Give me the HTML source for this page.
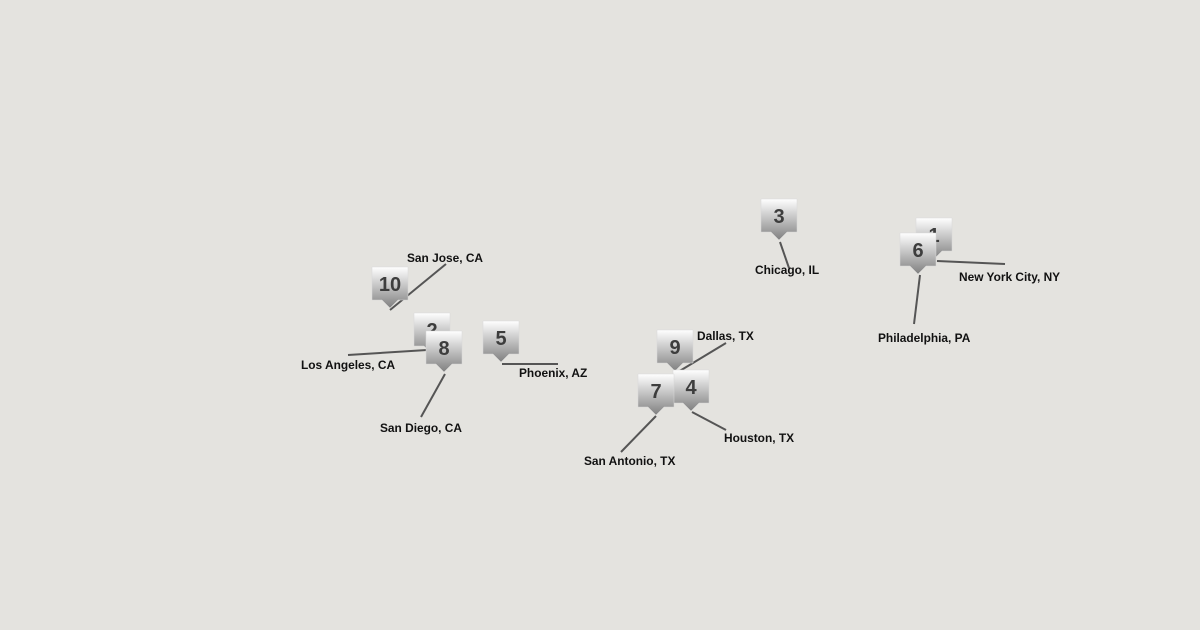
<!DOCTYPE html>
<html><head><meta charset="utf-8"><style>
html,body{margin:0;padding:0;background:#e4e3df;}
svg{display:block}
text{font-family:"Liberation Sans",sans-serif;}
.l{font-size:11.9px;font-weight:bold;fill:#111;}
.n{font-size:20px;font-weight:bold;fill:#3d3d3d;text-anchor:middle;}
</style></head><body>
<svg width="1200" height="630" viewBox="0 0 1200 630">
<defs>
<linearGradient id="g" x1="0" y1="0" x2="0" y2="1">
<stop offset="0" stop-color="#ffffff"/><stop offset="1" stop-color="#808080"/>
</linearGradient>
<g id="m"><path d="M-18,-41 h36 v33 h-10 l-8,8 l-8,-8 h-10 z" fill="url(#g)" stroke="#d8d8d8" stroke-width="0.5"/></g>
</defs>
<g stroke="#555" stroke-width="2" fill="none">
<line x1="390" y1="310" x2="446" y2="264"/>
<line x1="348" y1="355" x2="427" y2="350"/>
<line x1="421" y1="417" x2="445" y2="374"/>
<line x1="502" y1="364" x2="558" y2="364"/>
<line x1="780" y1="242" x2="789" y2="268"/>
<line x1="937" y1="261" x2="1005" y2="264"/>
<line x1="920" y1="275" x2="914" y2="324"/>
<line x1="678" y1="372" x2="726" y2="343"/>
<line x1="692" y1="412" x2="726" y2="430"/>
<line x1="656" y1="416" x2="621" y2="452"/>
</g>
<text class="l" x="407" y="262">San Jose, CA</text>
<text class="l" x="301" y="369">Los Angeles, CA</text>
<text class="l" x="380" y="432">San Diego, CA</text>
<text class="l" x="519" y="377">Phoenix, AZ</text>
<text class="l" x="755" y="274">Chicago, IL</text>
<text class="l" x="959" y="281">New York City, NY</text>
<text class="l" x="878" y="342">Philadelphia, PA</text>
<text class="l" x="697" y="340">Dallas, TX</text>
<text class="l" x="724" y="442">Houston, TX</text>
<text class="l" x="584" y="465">San Antonio, TX</text>

<use href="#m" x="390" y="308"/><text class="n" x="390" y="291">10</text>
<use href="#m" x="432" y="354"/><text class="n" x="432" y="337">2</text>
<use href="#m" x="444" y="372"/><text class="n" x="444" y="355">8</text>
<use href="#m" x="501" y="362"/><text class="n" x="501" y="345">5</text>
<use href="#m" x="779" y="240"/><text class="n" x="779" y="223">3</text>
<use href="#m" x="934" y="259"/><text class="n" x="934" y="242">1</text>
<use href="#m" x="918" y="274"/><text class="n" x="918" y="257">6</text>
<use href="#m" x="675" y="371"/><text class="n" x="675" y="354">9</text>
<use href="#m" x="691" y="411"/><text class="n" x="691" y="394">4</text>
<use href="#m" x="656" y="415"/><text class="n" x="656" y="398">7</text>
</svg>
</body></html>
